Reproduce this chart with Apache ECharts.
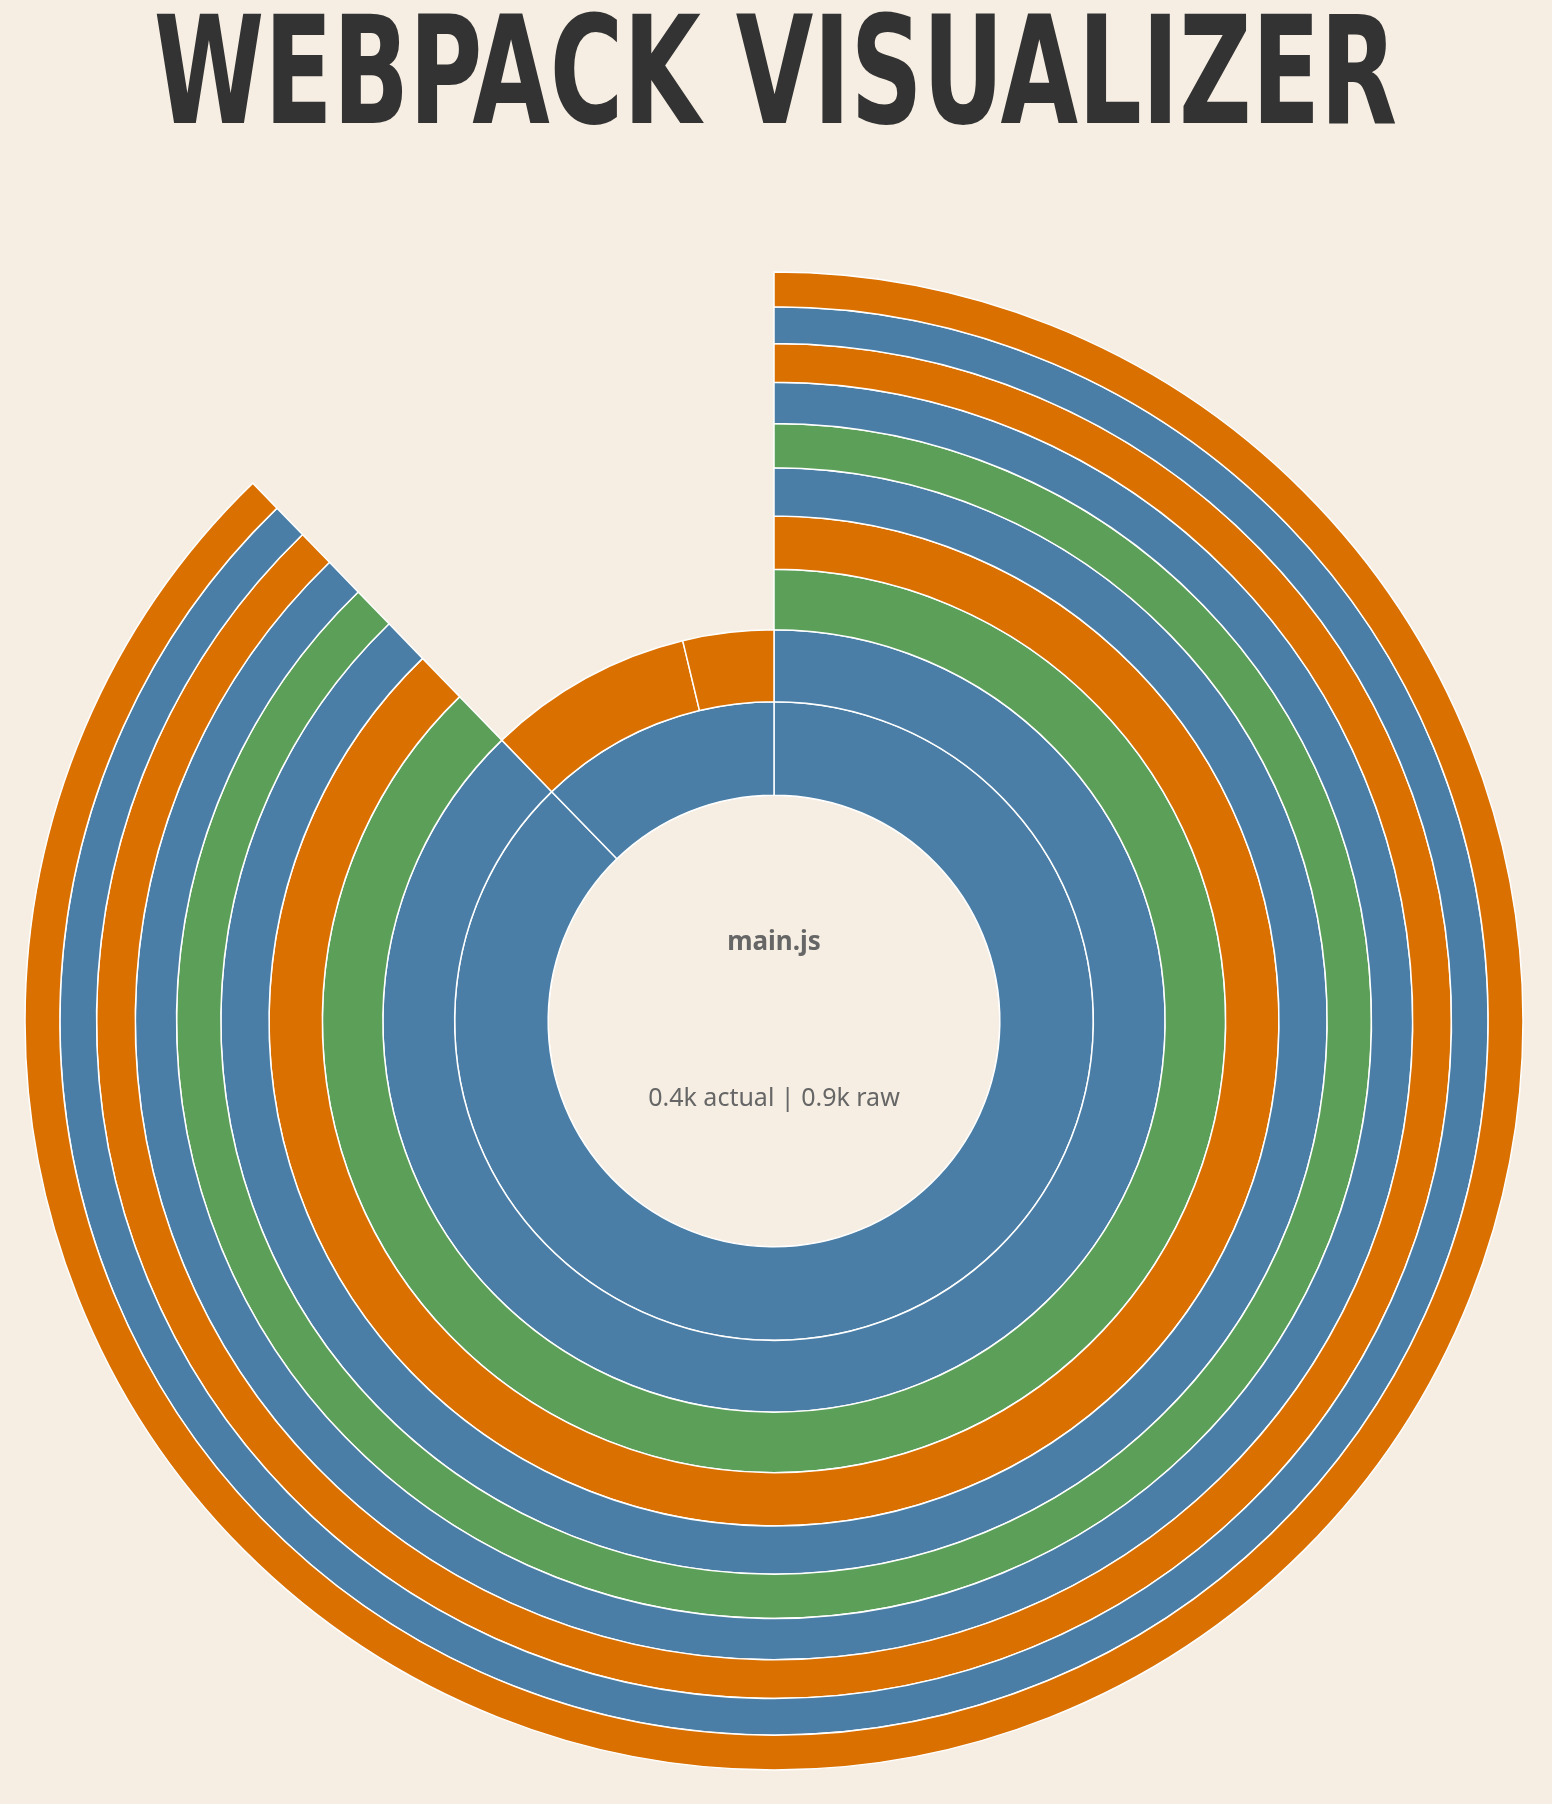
<!DOCTYPE html>
<html>
<head>
<meta charset="utf-8">
<title>Webpack Visualizer</title>
<script src="https://cdn.jsdelivr.net/npm/echarts@6/dist/echarts.min.js"></script>
<style>
  html, body { margin: 0; padding: 0; background: #f6eee3; }
  #main { width: 1552px; height: 1804px; }
</style>
</head>
<body>
<div id="main"></div>
<script>
// bundle summary (center text)
const titleText = 'WEBPACK VISUALIZER';
const bundleName = 'main.js';
const actualK = 0.4;
const rawK = 0.9;

// long chain of nested folders ending in one module (biggest slice)
const chainNames = ['src', 'app', 'components', 'header', 'nav', 'menu', 'items', 'list', 'entry', 'index.js'];
const chainGroups = [0, 0, 2, 1, 0, 2, 0, 1, 0, 1];
const chainSize = 351;

// small branch with two modules
const sideName = 'lib';
const sideGroup = 0;
const sideLeafNames = ['utils.js', 'config.js'];
const sideLeafGroups = [1, 1];
const sideLeafSizes = [34, 15];

// styles
const palette = ['#4a7ea6', '#da7000', '#5c9f59'];
const bgColor = '#f6eee3';
const CX = 774, CY = 1021, R = 749;
const depth = 11; // center + 10 rings

function buildChain() {
  let node = null;
  for (let i = chainNames.length - 1; i >= 0; i--) {
    const n = { name: chainNames[i], itemStyle: { color: palette[chainGroups[i]] } };
    if (node) n.children = [node];
    else n.value = chainSize;
    node = n;
  }
  return node;
}

function buildSide() {
  return {
    name: sideName,
    itemStyle: { color: palette[sideGroup] },
    children: sideLeafNames.map(function (nm, i) {
      return { name: nm, value: sideLeafSizes[i], itemStyle: { color: palette[sideLeafGroups[i]] } };
    })
  };
}

const treeData = [{
  name: bundleName,
  itemStyle: { color: bgColor },
  children: [buildChain(), buildSide()]
}];

// sqrt radius scale, like the d3 original
const levels = [{}];
for (let k = 0; k < depth; k++) {
  levels.push({
    r0: k === 0 ? 0 : R * Math.sqrt(k / depth),
    r: R * Math.sqrt((k + 1) / depth),
    label: { show: false }
  });
}

// fit title font to the reference box (condensed heavy caps)
const titleFamily = '"Liberation Sans Narrow", "DejaVu Sans Condensed", sans-serif';
const capTop = 11, capBottom = 125, titleWidth = 1239;
const ctx = document.createElement('canvas').getContext('2d');
ctx.font = 'bold 100px ' + titleFamily;
ctx.textBaseline = 'middle';
let m = ctx.measureText(titleText);
const capH100 = m.actualBoundingBoxAscent + m.actualBoundingBoxDescent;
const titleSize = 100 * (capBottom - capTop) / capH100;
ctx.font = 'bold ' + titleSize + 'px ' + titleFamily;
m = ctx.measureText(titleText);
const inkW = m.actualBoundingBoxLeft + m.actualBoundingBoxRight;
const titleScale = titleWidth / inkW;
const titleY = capTop + m.actualBoundingBoxAscent;

const centerFont = 'Noto Sans';
const chart = echarts.init(document.getElementById('main'));
chart.setOption({
  backgroundColor: bgColor,
  animation: false,
  graphic: [{
    type: 'text',
    x: 775.5,
    y: titleY,
    scaleX: titleScale,
    silent: true,
    style: {
      text: titleText,
      fontSize: titleSize,
      fontWeight: 'bold',
      fontFamily: titleFamily,
      fill: '#333',
      align: 'center',
      verticalAlign: 'middle',
      textAlign: 'center',
      textVerticalAlign: 'middle'
    }
  }, {
    type: 'text',
    x: CX,
    y: CY - 78,
    z: 100,
    silent: true,
    style: {
      text: bundleName,
      fontSize: 26,
      fontWeight: 'bold',
      fontFamily: centerFont,
      fill: '#666',
      align: 'center',
      verticalAlign: 'middle',
      textAlign: 'center',
      textVerticalAlign: 'middle'
    }
  }, {
    type: 'text',
    x: CX,
    y: CY + 78,
    z: 100,
    silent: true,
    style: {
      text: actualK + 'k actual | ' + rawK + 'k raw',
      fontSize: 25,
      fontFamily: centerFont,
      fill: '#666',
      align: 'center',
      verticalAlign: 'middle',
      textAlign: 'center',
      textVerticalAlign: 'middle'
    }
  }],
  series: [{
    type: 'sunburst',
    center: [CX, CY],
    radius: [0, R],
    sort: null,
    nodeClick: false,
    emphasis: { disabled: true },
    itemStyle: { borderColor: '#fff', borderWidth: 1.5 },
    levels: levels,
    data: treeData
  }]
});
</script>
</body>
</html>
